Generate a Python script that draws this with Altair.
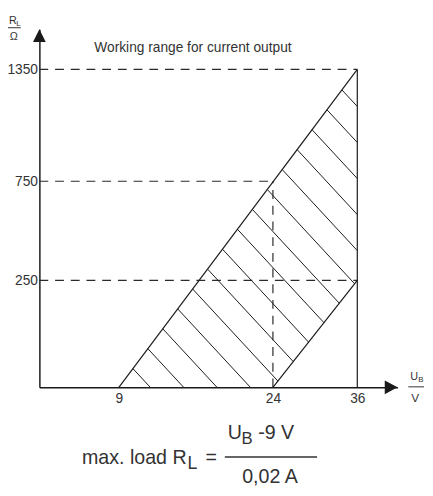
import altair as alt
import numpy as np
import pandas as pd

# ---------------- data (schematic axes: piecewise linear) ----------------
x_breaks = [0, 9, 24, 36, 40]          # U_B in V
y_breaks = [0, 250, 750, 1350, 1550]   # R_L in Ohm
x_ticks = [9, 24, 36]
y_ticks = [250, 750, 1350]

# working range polygon (U_B, R_L)
region_u = [9, 24, 36, 36]
region_r = [0, 0, 250, 1350]

# solid boundary segments
bound_u = [9, 24, 36]
bound_r = [0, 0, 0]
bound_u2 = [36, 36, 36]
bound_r2 = [1350, 250, 1350]

# dashed guide segments
guide_u = [0, 0, 0, 24]
guide_r = [1350, 750, 250, 0]
guide_u2 = [36, 24, 36, 24]
guide_r2 = [1350, 750, 250, 750]

# ---------------- layout ----------------
W, H = 365, 365
x_px = [0, 81, 238, 324, 365]
y_px = [365, 256, 155, 41, 0]
FONT = "Liberation Sans"
TXT = "#333333"
LINE = "#1a1a1a"

x_scale = alt.Scale(domain=x_breaks, range=x_px, nice=False, zero=False)
y_scale = alt.Scale(domain=y_breaks, range=y_px, nice=False, zero=False)
x_axis = alt.Axis(values=x_ticks, title=None, ticks=False, grid=False, format="d",
                  domainColor=LINE, domainWidth=1.5, labelFont=FONT,
                  labelFontSize=14, labelColor=TXT, labelPadding=4,
                  labelFlush=False, labelOverlap=False, labelBound=False)
y_axis = alt.Axis(values=y_ticks, title=None, ticks=False, grid=False, format="d",
                  domainColor=LINE, domainWidth=1.5, labelFont=FONT,
                  labelFontSize=14, labelColor=TXT, labelPadding=2,
                  labelFlush=False, labelOverlap=False, labelBound=False)


def X(f):
    return alt.X(f, scale=x_scale, axis=x_axis)


def Y(f):
    return alt.Y(f, scale=y_scale, axis=y_axis)


# ---------------- hatch (derived from polygon, in screen space) ----------------
def to_px(u, r):
    return float(np.interp(u, x_breaks, x_px)), float(np.interp(r, y_breaks, y_px))


def from_px(px, py):
    return (float(np.interp(px, x_px, x_breaks)),
            float(np.interp(py, y_px[::-1], y_breaks[::-1])))


poly = [to_px(u, r) for u, r in zip(region_u, region_r)]
slope = 1.08       # hatch direction (screen dy/dx)
step = 34.0        # hatch spacing along the U axis (px)
start = 32.0       # first hatch offset from left corner (px)
hx1, hy1, hx2, hy2 = [], [], [], []
base_y = poly[0][1]
for k in range(40):
    x0 = poly[0][0] + start + k * step
    pts = []
    n = len(poly)
    for i in range(n):
        (ax, ay), (bx, by) = poly[i], poly[(i + 1) % n]
        fa = ay - base_y - slope * (ax - x0)
        fb = by - base_y - slope * (bx - x0)
        if fa * fb <= 0 and fa != fb:
            t = fa / (fa - fb)
            pts.append((ax + t * (bx - ax), ay + t * (by - ay)))
    if len(pts) >= 2:
        pts.sort()
        (p1, p2) = pts[0], pts[-1]
        if abs(p2[0] - p1[0]) > 0.5:
            u1, r1 = from_px(*p1)
            u2, r2 = from_px(*p2)
            hx1.append(u1); hy1.append(r1); hx2.append(u2); hy2.append(r2)

hatch = pd.DataFrame({"u": hx1, "r": hy1, "u2": hx2, "r2": hy2})
bounds = pd.DataFrame({"u": bound_u, "r": bound_r, "u2": bound_u2, "r2": bound_r2})
guides = pd.DataFrame({"u": guide_u, "r": guide_r, "u2": guide_u2, "r2": guide_r2})

guide_layer = alt.Chart(guides).mark_rule(color="#2a2a2a", strokeWidth=1.2,
                                          strokeDash=[9, 7]).encode(
    x=X("u:Q"), y=Y("r:Q"), x2="u2:Q", y2="r2:Q")
hatch_layer = alt.Chart(hatch).mark_rule(color=LINE, strokeWidth=1).encode(
    x=X("u:Q"), y=Y("r:Q"), x2="u2:Q", y2="r2:Q")
bound_layer = alt.Chart(bounds).mark_rule(color=LINE, strokeWidth=1.2).encode(
    x=X("u:Q"), y=Y("r:Q"), x2="u2:Q", y2="r2:Q")

# axis arrows at the ends of the axes
arrow_y = alt.Chart(pd.DataFrame({"u": [x_breaks[0]], "r": [y_breaks[-1]]})).mark_point(
    shape="M0,0L0.5,1L-0.5,1Z", filled=True, size=676, color=LINE, opacity=1).encode(
    x=X("u:Q"), y=Y("r:Q"))
arrow_x = alt.Chart(pd.DataFrame({"u": [x_breaks[-1]], "r": [y_breaks[0]]})).mark_point(
    shape="M0,0L-1,-0.54L-1,0.54Z", filled=True, size=676, color=LINE, opacity=1).encode(
    x=X("u:Q"), y=Y("r:Q"))


def label(text, x, y, size, font=FONT, align="left", baseline="alphabetic"):
    return alt.Chart(pd.DataFrame({"t": [text]})).mark_text(
        font=font, fontSize=size, color=TXT, align=align, baseline=baseline).encode(
        text="t:N", x=alt.value(x), y=alt.value(y))


def hline(x1, x2, y, w=1.3):
    return alt.Chart(pd.DataFrame({"t": [0]})).mark_rule(color=TXT, strokeWidth=w).encode(
        x=alt.value(x1), x2=alt.value(x2), y=alt.value(y))


texts = [
    label("Working range for current output", 56, 23, 14),
    # y axis title R_L / Ohm
    label("R", -31, -5, 11),
    label("L", -23.5, -3, 8),
    hline(-33, -19, -1.5, 1),
    label("Ω", -26, 11, 11, align="center"),
    # x axis title U_B / V
    label("U", 378, 358, 11),
    label("B", 386, 360, 8),
    hline(376, 392, 364.5, 1),
    label("V", 383, 380, 12, align="center"),
    # formula
    label("max. load R", 150, 443, 20, align="right"),
    label("L", 151, 448, 18),
    label("=", 175, 443, 20, align="center"),
    label("U", 192, 418, 20),
    label("B", 206, 423, 17),
    label("-9 V", 223, 418, 20),
    hline(189, 283, 436, 1.5),
    label("0,02 A", 235, 462, 20, align="center"),
]

chart = alt.layer(guide_layer, hatch_layer, bound_layer, arrow_y, arrow_x, *texts).properties(
    width=W, height=H,
    padding={"left": 32, "top": 17, "right": 28, "bottom": 98},
    autosize=alt.AutoSizeParams(type="none"),
).configure_view(stroke=None)

chart.save("out.html", embed_options={"renderer": "svg", "actions": False})
